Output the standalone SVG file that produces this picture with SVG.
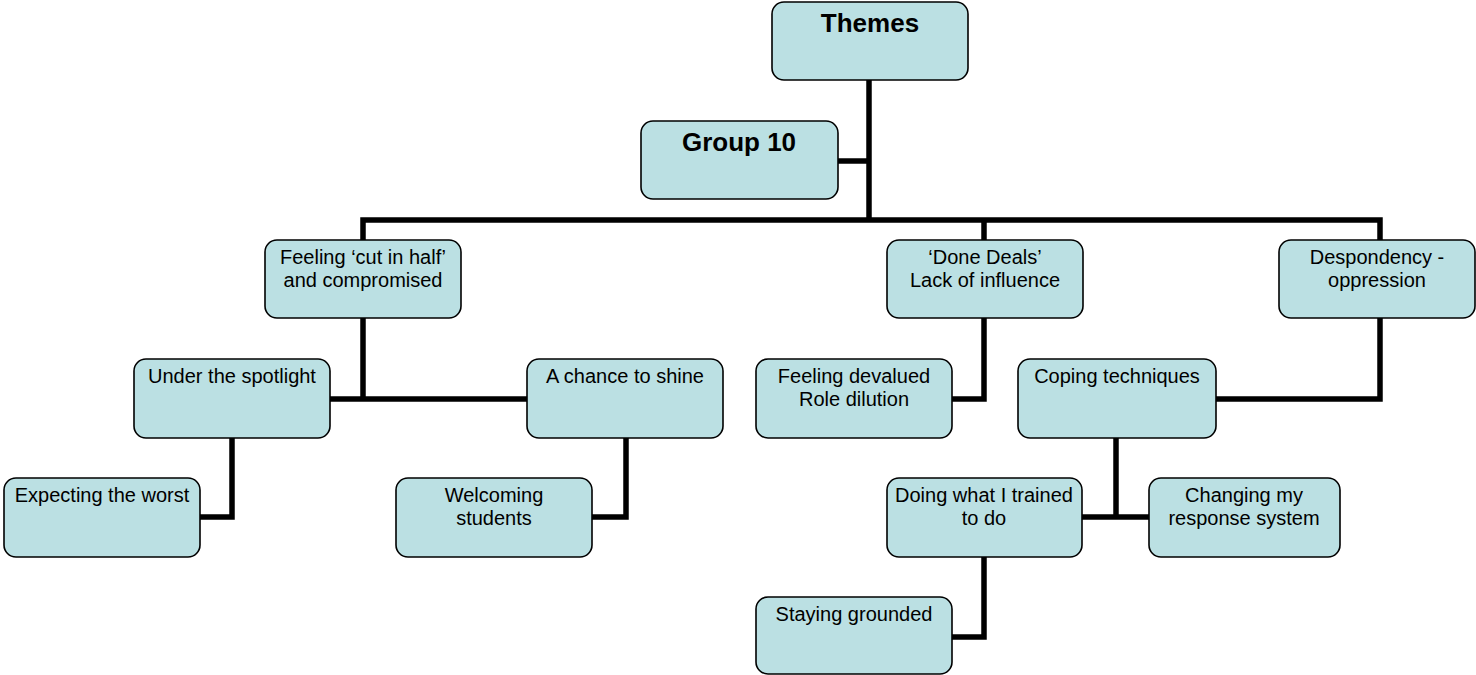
<svg xmlns="http://www.w3.org/2000/svg" width="1476" height="675" viewBox="0 0 1476 675">
  <style>
    .box { fill: #BBE0E3; stroke: #000; stroke-width: 1.6; }
    .t { font-family: "Liberation Sans", Arial, sans-serif; font-size: 20px; fill: #000; text-anchor: middle; }
    .tb { font-family: "Liberation Sans", Arial, sans-serif; font-size: 26px; font-weight: bold; fill: #000; text-anchor: middle; }
    .link { fill: none; stroke: #000; stroke-width: 5.5; stroke-linejoin: miter; stroke-linecap: butt; }
  </style>

  <rect width="1476" height="675" fill="#fff"/>

  <!-- tree connectors -->
  <g id="connectors">
    <path class="link" d="M869 80 V220"/>
    <path class="link" d="M838 161 H869"/>
    <path class="link" d="M363 240 V220 H1380 V240"/>
    <path class="link" d="M984 220 V240"/>
    <path class="link" d="M363 318 V399"/>
    <path class="link" d="M330 399 H527"/>
    <path class="link" d="M232 438 V517 H200"/>
    <path class="link" d="M626 438 V517 H592"/>
    <path class="link" d="M984 318 V399 H952"/>
    <path class="link" d="M1380 318 V399 H1216"/>
    <path class="link" d="M1116 438 V517"/>
    <path class="link" d="M1082 517 H1149"/>
    <path class="link" d="M984 557 V637 H952"/>
  </g>

  <g id="themes">
    <rect class="box" x="772" y="2" width="196" height="78" rx="12"/>
    <text class="tb" x="870" y="32">Themes</text>
  </g>
  <g id="group10">
    <rect class="box" x="641" y="121" width="197" height="78" rx="12"/>
    <text class="tb" x="739" y="151">Group 10</text>
  </g>
  <g id="cut-in-half">
    <rect class="box" x="265" y="240" width="196" height="78" rx="12"/>
    <text class="t" x="363" y="264">Feeling ‘cut in half’</text>
    <text class="t" x="363" y="287">and compromised</text>
  </g>
  <g id="done-deals">
    <rect class="box" x="887" y="240" width="196" height="78" rx="12"/>
    <text class="t" x="985" y="264">‘Done Deals’</text>
    <text class="t" x="985" y="287">Lack of influence</text>
  </g>
  <g id="despondency">
    <rect class="box" x="1279" y="240" width="196" height="78" rx="12"/>
    <text class="t" x="1377" y="264">Despondency -</text>
    <text class="t" x="1377" y="287">oppression</text>
  </g>
  <g id="spotlight">
    <rect class="box" x="134" y="359" width="196" height="79" rx="12"/>
    <text class="t" x="232" y="383">Under the spotlight</text>
  </g>
  <g id="chance-to-shine">
    <rect class="box" x="527" y="359" width="196" height="79" rx="12"/>
    <text class="t" x="625" y="383">A chance to shine</text>
  </g>
  <g id="devalued">
    <rect class="box" x="756" y="359" width="196" height="79" rx="12"/>
    <text class="t" x="854" y="383">Feeling devalued</text>
    <text class="t" x="854" y="406">Role dilution</text>
  </g>
  <g id="coping">
    <rect class="box" x="1018" y="359" width="198" height="79" rx="12"/>
    <text class="t" x="1117" y="383">Coping techniques</text>
  </g>
  <g id="expecting-worst">
    <rect class="box" x="4" y="478" width="196" height="79" rx="12"/>
    <text class="t" x="102" y="502">Expecting the worst</text>
  </g>
  <g id="welcoming">
    <rect class="box" x="396" y="478" width="196" height="79" rx="12"/>
    <text class="t" x="494" y="502">Welcoming</text>
    <text class="t" x="494" y="525">students</text>
  </g>
  <g id="trained">
    <rect class="box" x="887" y="478" width="195" height="79" rx="12"/>
    <text class="t" x="984" y="502">Doing what I trained</text>
    <text class="t" x="984" y="525">to do</text>
  </g>
  <g id="response-system">
    <rect class="box" x="1149" y="478" width="191" height="79" rx="12"/>
    <text class="t" x="1244" y="502">Changing my</text>
    <text class="t" x="1244" y="525">response system</text>
  </g>
  <g id="grounded">
    <rect class="box" x="756" y="597" width="196" height="77" rx="12"/>
    <text class="t" x="854" y="621">Staying grounded</text>
  </g>
</svg>
